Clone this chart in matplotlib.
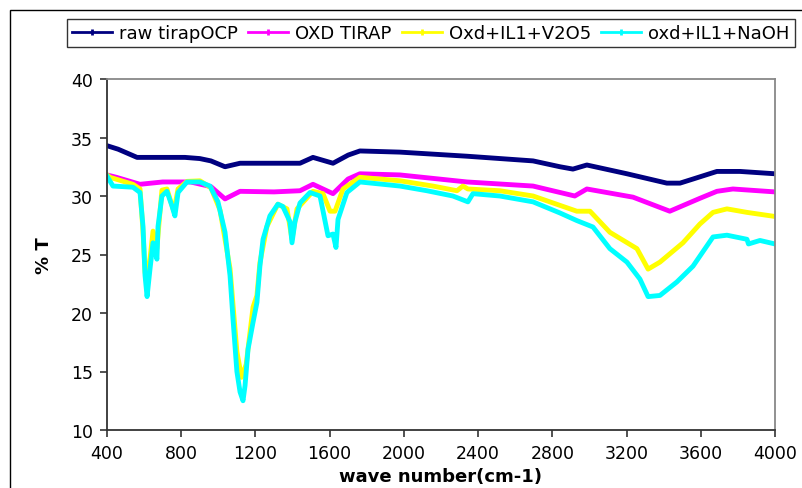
import matplotlib
matplotlib.use("Agg")
import matplotlib.pyplot as plt
from matplotlib.lines import Line2D
from matplotlib.patches import Rectangle

plt.rcParams['font.family'] = ['DejaVu Sans']

# raw tirapOCP
raw_x = [400, 460, 562, 700, 820, 900, 960, 1036, 1117, 1250, 1440, 1510, 1618, 1700,
         1763, 1979, 2340, 2696, 2841, 2911, 2986, 3202, 3417, 3488, 3558, 3687, 3811, 4000]
raw_y = [34.3, 34.0, 33.3, 33.3, 33.3, 33.2, 33.0, 32.5, 32.8, 32.8, 32.8, 33.3, 32.8, 33.5,
         33.85, 33.75, 33.4, 33.0, 32.5, 32.3, 32.65, 31.9, 31.1, 31.1, 31.45, 32.1, 32.1, 31.9]

# OXD TIRAP
oxd_x = [400, 450, 578, 700, 850, 960, 1036, 1117, 1300, 1440, 1510, 1618, 1699, 1763,
         1979, 2340, 2696, 2921, 2986, 3235, 3433, 3595, 3687, 3773, 4000]
oxd_y = [31.8, 31.6, 31.0, 31.2, 31.2, 30.8, 29.75, 30.4, 30.35, 30.45, 31.0, 30.2, 31.45, 31.9,
         31.8, 31.2, 30.85, 30.0, 30.6, 29.9, 28.7, 29.8, 30.4, 30.6, 30.35]

# Oxd+IL1+V2O5
v2o5_x = [400, 416, 540, 578, 594, 605, 612, 633, 648, 669, 682, 696, 723, 760, 783, 831,
          901, 960, 1009, 1063, 1100, 1125, 1150, 1187, 1208, 1224, 1262, 1321, 1370, 1397,
          1424, 1510, 1564, 1602, 1629, 1672, 1763, 1979, 2156, 2286, 2318, 2345, 2517,
          2696, 2841, 2932, 3003, 3110, 3256, 3316, 3380, 3504, 3595, 3666, 3741, 3849, 4000]
v2o5_y = [31.8, 31.6, 31.0, 30.6, 27.0, 23.5, 22.8, 24.8, 27.0, 25.5, 28.0, 30.5, 30.6, 28.7,
          30.6, 31.25, 31.3, 30.7, 28.8, 23.8, 16.7, 14.5, 15.6, 20.5, 21.5, 24.3, 27.4, 29.3,
          28.9, 26.3, 28.9, 30.4, 30.2, 28.7, 28.7, 30.6, 31.6, 31.3, 30.85, 30.45, 30.85,
          30.6, 30.45, 30.0, 29.2, 28.7, 28.7, 26.9, 25.5, 23.75, 24.35, 26.0, 27.6, 28.6,
          28.9, 28.6, 28.25]

# oxd+IL1+NaOH
naoh_x = [400, 432, 540, 578, 594, 605, 616, 632, 648, 669, 675, 696, 723, 750, 766, 783,
          831, 901, 955, 998, 1036, 1063, 1079, 1100, 1117, 1133, 1144, 1160, 1187, 1208,
          1224, 1241, 1278, 1321, 1348, 1386, 1397, 1413, 1440, 1494, 1548, 1591, 1618,
          1634, 1645, 1693, 1763, 1979, 2124, 2264, 2345, 2372, 2517, 2696, 2841, 2932,
          3019, 3110, 3202, 3272, 3316, 3380, 3471, 3558, 3666, 3741, 3849, 3857, 3919, 4000]
naoh_y = [31.7, 30.85, 30.75, 30.3, 27.4, 23.2, 21.4, 23.8, 26.0, 24.6, 27.4, 30.0, 30.4,
          29.15, 28.3, 30.3, 31.2, 31.2, 30.85, 29.5, 26.9, 23.2, 19.5, 15.0, 13.25, 12.5,
          13.8, 16.9, 19.2, 20.9, 24.0, 26.3, 28.3, 29.3, 29.1, 27.8, 26.0, 27.8, 29.4,
          30.3, 30.0, 26.6, 26.75, 25.6, 28.0, 30.3, 31.2, 30.85, 30.45, 30.0, 29.5, 30.2,
          30.0, 29.5, 28.55, 27.9, 27.35, 25.5, 24.35, 22.9, 21.4, 21.5, 22.65, 24.0, 26.5,
          26.65, 26.3, 25.9, 26.2, 25.9]

labels = ["raw tirapOCP", "OXD TIRAP", "Oxd+IL1+V2O5", "oxd+IL1+NaOH"]
colors = ["#000080", "#FF00FF", "#FFFF00", "#00FFFF"]
series = [(raw_x, raw_y), (oxd_x, oxd_y), (v2o5_x, v2o5_y), (naoh_x, naoh_y)]

W, H = 803, 489
fig = plt.figure(figsize=(W / 100, H / 100), dpi=100)
ax = fig.add_axes([107 / W, 1 - 431 / H, 668 / W, 351 / H])

for (xs, ys), c in zip(series, colors):
    ax.plot(xs, ys, color=c, lw=3.5, solid_joinstyle='round')

ax.set_xlim(400, 4000)
ax.set_ylim(10, 40)
ax.set_xticks(range(400, 4001, 400))
ax.set_yticks(range(10, 41, 5))
ax.tick_params(direction='out', length=5, width=1.2, labelsize=12.5, color='#333333')
ax.tick_params(axis='x', pad=5)
ax.tick_params(axis='y', pad=5)
for s in ['left', 'bottom']:
    ax.spines[s].set_color('#333333')
    ax.spines[s].set_linewidth(1.3)
for s in ['top', 'right']:
    ax.spines[s].set_color('#888888')
    ax.spines[s].set_linewidth(1.3)

ax.set_xlabel("wave number(cm-1)", fontsize=13, fontweight='bold')
ax.set_ylabel("% T", fontsize=13, fontweight='bold')
ax.xaxis.set_label_coords(0.5, (431 - 468) / 351)
ax.yaxis.set_label_coords((53 - 107) / 668, 0.5)

handles = [Line2D([], [], color=c, lw=2, marker='|', ms=5, mew=2) for c in colors]
leg = fig.legend(handles, labels, ncol=4, mode='expand', loc='center',
                 bbox_to_anchor=(67 / W, 1 - 51 / H, 728 / W, 34 / H),
                 fontsize=13, frameon=True, fancybox=False, handlelength=2.2,
                 handletextpad=0.4, columnspacing=0.6, borderaxespad=0, borderpad=0.3)
leg.get_frame().set_edgecolor('black')
leg.get_frame().set_linewidth(1.0)

# outer chart border
fig.patches.append(Rectangle((10 / W, -0.2), 1.2, 1 - 11 / H + 0.2, transform=fig.transFigure,
                             fill=False, edgecolor='black', lw=1.0))

fig.savefig("out.png", dpi=100)
